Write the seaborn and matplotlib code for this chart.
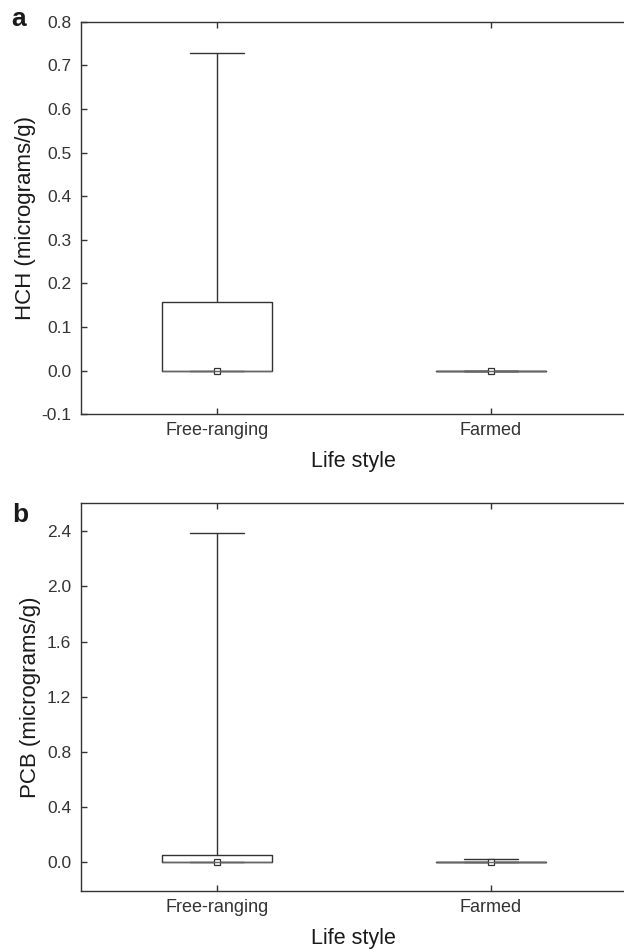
import pandas as pd
import numpy as np
import matplotlib
matplotlib.use("Agg")
import matplotlib.pyplot as plt
import seaborn as sns

# values (min, q1, median, q3, max per group)
groups = ["Free-ranging", "Farmed"]
hch_free = [0.0, 0.0, 0.0, 0.157, 0.728]
hch_farmed = [0.0, 0.0, 0.0, 0.0, 0.0]
pcb_free = [0.0, 0.0, 0.0, 0.055, 2.39]
pcb_farmed = [0.0, 0.0, 0.0, 0.003, 0.022]

hch = pd.DataFrame({"style": [groups[0]] * 5 + [groups[1]] * 5,
                    "val": hch_free + hch_farmed})
pcb = pd.DataFrame({"style": [groups[0]] * 5 + [groups[1]] * 5,
                    "val": pcb_free + pcb_farmed})

sns.set_style("ticks")
plt.rcParams['font.family'] = ['Liberation Sans', 'DejaVu Sans']
plt.rcParams['axes.edgecolor'] = '0.2'
plt.rcParams['xtick.color'] = '0.2'
plt.rcParams['ytick.color'] = '0.2'
plt.rcParams['text.color'] = '0.1'
plt.rcParams['axes.labelcolor'] = '0.1'

fig = plt.figure(figsize=(6.24, 9.52), dpi=100)
# right edge sits just past the figure edge, as in the original
ax1 = fig.add_axes([0.1298, 0.565, 0.8726, 0.412])
ax2 = fig.add_axes([0.1298, 0.064, 0.8726, 0.408])

lc = '0.2'


def panel(ax, df, ylab, yticks, ylim):
    sns.boxplot(data=df, x="style", y="val", order=groups, ax=ax,
                whis=(0, 100), width=0.4, fill=False, color=lc,
                linewidth=1.0, showfliers=False,
                medianprops=dict(color='0.4', linewidth=1.0))
    sns.pointplot(data=df, x="style", y="val", order=groups, ax=ax,
                  estimator="median", errorbar=None, color=lc,
                  markers="s", linestyles="none", markersize=4,
                  markerfacecolor="white", markeredgecolor=lc,
                  markeredgewidth=0.9)
    ax.set_xlim(-0.496, 1.491)
    ax.set_ylim(*ylim)
    ax.set_yticks(yticks)
    ax.set_yticklabels(["%.1f" % t for t in yticks])
    ax.set_xticks([0, 1])
    ax.set_xticklabels(groups)
    for s in ax.spines.values():
        s.set_visible(True)
        s.set_linewidth(1.0)
    ax.tick_params(direction='in', length=4, width=1.0, top=True)
    ax.tick_params(axis='x', labelsize=13, pad=6)
    ax.tick_params(axis='y', labelsize=12.5, pad=7)
    ax.set_ylabel(ylab, fontsize=16, labelpad=4)
    ax.set_xlabel("Life style", fontsize=15.5, labelpad=8)


panel(ax1, hch, "HCH (micrograms/g)",
      [-0.1, 0.0, 0.1, 0.2, 0.3, 0.4, 0.5, 0.6, 0.7, 0.8], (-0.1, 0.8))
panel(ax2, pcb, "PCB (micrograms/g)",
      [0.0, 0.4, 0.8, 1.2, 1.6, 2.0, 2.4], (-0.21, 2.607))

fig.text(11 / 624, 1 - 26 / 952, "a", fontsize=19, fontweight='bold',
         ha='left', va='baseline')
fig.text(12 / 624, 1 - 522 / 952, "b", fontsize=19, fontweight='bold',
         ha='left', va='baseline')

plt.savefig("out.png", dpi=100)
